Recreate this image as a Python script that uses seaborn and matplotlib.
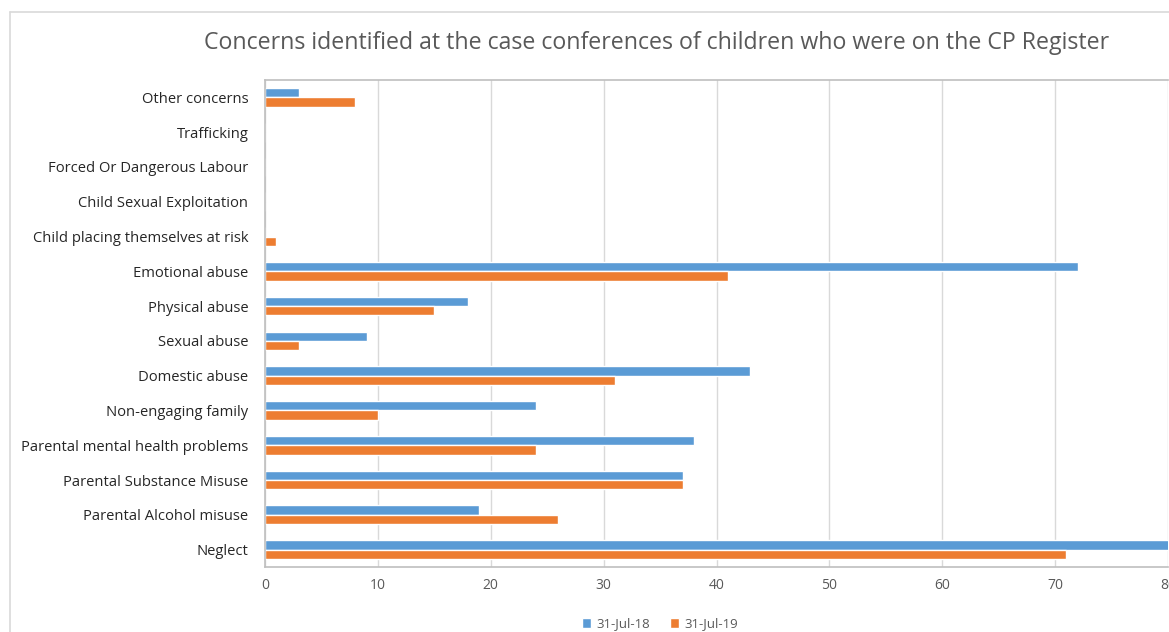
import pandas as pd
import numpy as np
import matplotlib.pyplot as plt
import seaborn as sns
from matplotlib.lines import Line2D
from matplotlib.patches import Patch

# Categories listed top to bottom as in the chart
categories = ['Other concerns', 'Trafficking', 'Forced Or Dangerous Labour',
              'Child Sexual Exploitation', 'Child placing themselves at risk',
              'Emotional abuse', 'Physical abuse', 'Sexual abuse', 'Domestic abuse',
              'Non-engaging family', 'Parental mental health problems',
              'Parental Substance Misuse', 'Parental Alcohol misuse', 'Neglect']
jul_18 = [3, 0, 0, 0, 0, 72, 18, 9, 43, 24, 38, 37, 19, 81]
jul_19 = [8, 0, 0, 0, 1, 41, 15, 3, 31, 10, 24, 37, 26, 71]
series = ['31-Jul-18', '31-Jul-19']
x_ticks = [0, 10, 20, 30, 40, 50, 60, 70, 80]

df = pd.DataFrame({
    'Concern': categories * 2,
    'Count': jul_18 + jul_19,
    'Date': [series[0]] * len(categories) + [series[1]] * len(categories),
})

sns.set_style('white')
plt.rcParams['font.family'] = ['Open Sans', 'DejaVu Sans']

fig = plt.figure(figsize=(11.69, 6.32), dpi=100)
ax = fig.add_axes([265 / 1169, 1 - 567 / 632, (1168 - 265) / 1169, (567 - 80) / 632])

colors = {'31-Jul-18': '#5B9BD5', '31-Jul-19': '#ED7D31'}
sns.barplot(data=df, y='Concern', x='Count', hue='Date', hue_order=series,
            order=categories, palette=colors, orient='h', width=0.54,
            saturation=1, legend=False, ax=ax)

ax.set_xlim(0, 80)
ax.set_ylim(len(categories) - 0.5, -0.5)
ax.set_xticks(x_ticks)
ax.xaxis.grid(True, color='#d9d9d9', linewidth=1)
ax.set_axisbelow(True)
ax.set_xlabel('')
ax.set_ylabel('')

for side in ['left', 'bottom', 'top']:
    ax.spines[side].set_color('#bfbfbf')
    ax.spines[side].set_linewidth(1.2)
ax.spines['right'].set_visible(False)

ax.tick_params(axis='y', length=0, labelsize=10.6, labelcolor='#262626', pad=12)
ax.tick_params(axis='x', length=0, labelsize=10, labelcolor='#595959', pad=8)
ax.set_yticks(np.arange(-0.5, len(categories), 1), minor=True)
ax.tick_params(axis='y', which='minor', length=5, color='#bfbfbf', direction='out')

fig.text(657 / 1169, 1 - 43 / 632,
         'Concerns identified at the case conferences of children who were on the CP Register',
         ha='center', va='center', fontsize=16.7, color='#595959')

handles = [Patch(facecolor=colors[s], label=s) for s in series]
fig.legend(handles=handles, loc='center', bbox_to_anchor=(660 / 1169, 1 - 624 / 632),
           ncol=2, frameon=False, fontsize=9.5, handlelength=0.7, handleheight=0.7,
           handletextpad=0.4, columnspacing=1.5, labelcolor='#595959')

# chart frame (top and left edges visible)
fig.add_artist(Line2D([10 / 1169, 1], [1 - 12 / 632, 1 - 12 / 632], color='#d9d9d9', lw=1.2))
fig.add_artist(Line2D([10 / 1169, 10 / 1169], [0, 1 - 12 / 632], color='#d9d9d9', lw=1.2))

fig.savefig('out.png', dpi=100)
